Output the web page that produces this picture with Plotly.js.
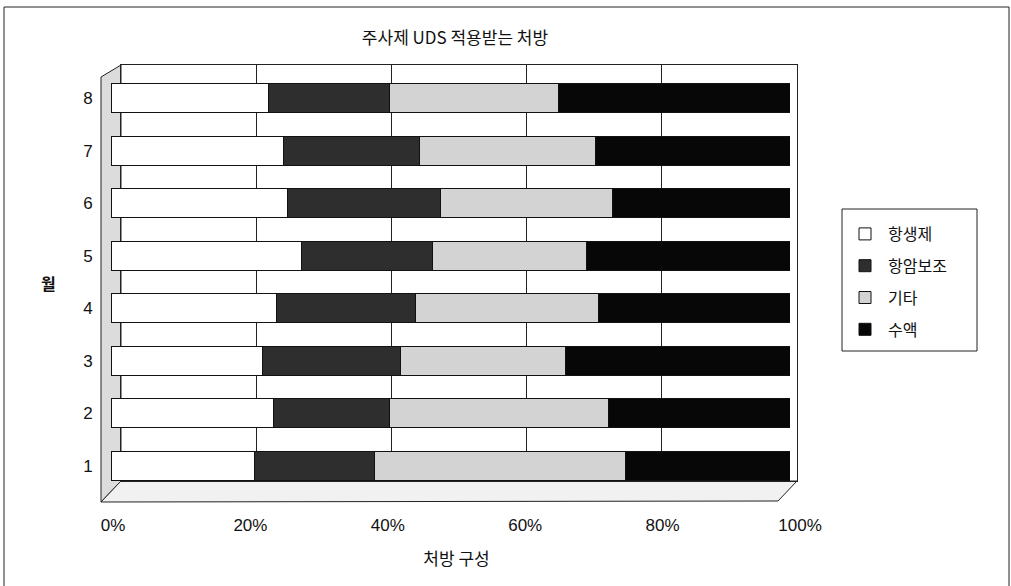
<!DOCTYPE html>
<html>
<head>
<meta charset="utf-8">
<script src="https://cdn.plot.ly/plotly-3.0.1.min.js"></script>
<style>
  html, body { margin: 0; padding: 0; background: #ffffff; }
  #chart { width: 1011px; height: 586px; }
</style>
</head>
<body>
<div id="chart"></div>
<script>
// Months (category axis) and prescription share per month (%)
const months = ['1', '2', '3', '4', '5', '6', '7', '8'];
const antibiotics = [21.1, 24.0, 22.3, 24.4, 28.0, 26.0, 25.4, 23.2];   // 항생제
const anticancerAux = [17.7, 17.0, 20.3, 20.5, 19.4, 22.5, 20.0, 17.8]; // 항암보조
const others = [36.9, 32.3, 24.4, 26.9, 22.7, 25.3, 26.0, 24.9];        // 기타
const fluids = [24.3, 26.7, 33.0, 28.2, 29.9, 26.2, 28.6, 34.1];        // 수액

const seriesNames = ['항생제', '항암보조', '기타', '수액'];
const seriesValues = [antibiotics, anticancerAux, others, fluids];
const seriesColors = ['#ffffff', '#2e2e2e', '#d3d3d3', '#070707'];

const tickValues = [0, 20, 40, 60, 80, 100];
const tickLabels = ['0%', '20%', '40%', '60%', '80%', '100%'];

const W = 1011, H = 586;
const px = x => x / W;          // pixel -> paper x
const py = y => 1 - y / H;      // pixel -> paper y

const KR = '"Noto Sans CJK KR", "Noto Sans", sans-serif';
const NUM = '"Liberation Sans Narrow", "Liberation Sans", Arial, sans-serif';

const traces = [];

// back wall frame carrying the vertical grid lines
traces.push({ x: [], y: [], xaxis: 'x', yaxis: 'y', type: 'scatter', mode: 'markers',
  showlegend: false, hoverinfo: 'skip' });

// axis that carries the percentage tick labels and the x title
traces.push({ x: [], y: [], xaxis: 'x2', yaxis: 'y3', type: 'scatter', mode: 'markers',
  showlegend: false, hoverinfo: 'skip' });

// the stacked bars
seriesNames.forEach((name, i) => {
  traces.push({
    type: 'bar',
    orientation: 'h',
    name: name,
    y: months,
    x: seriesValues[i],
    xaxis: 'x3',
    yaxis: 'y3',
    legendgroup: 'g' + i,
    marker: {
      color: seriesColors[i],
      line: { color: '#111111', width: 1 }
    },
    hoverinfo: 'x+name'
  });
});

const layout = {
  width: W,
  height: H,
  margin: { l: 0, r: 0, t: 0, b: 0 },
  paper_bgcolor: '#ffffff',
  plot_bgcolor: 'rgba(0,0,0,0)',
  barmode: 'stack',
  barnorm: 'percent',
  bargap: 0.45,
  showlegend: true,
  font: { family: KR, color: '#111111', size: 16 },
  title: {
    text: '주사제 UDS 적용받는 처방',
    font: { family: KR, size: 17, color: '#111111' },
    x: px(455), xanchor: 'center',
    y: py(38), yanchor: 'middle'
  },
  // back wall
  xaxis: {
    domain: [px(121), px(797)], anchor: 'y', range: [0, 100],
    tickvals: tickValues, showticklabels: false, ticks: '',
    showgrid: true, gridcolor: '#222222', gridwidth: 1,
    showline: true, mirror: true, linecolor: '#222222', linewidth: 1,
    zeroline: false, fixedrange: true
  },
  yaxis: {
    domain: [py(481), py(65)], anchor: 'x', range: [0, 1],
    showticklabels: false, ticks: '', showgrid: false,
    showline: true, mirror: true, linecolor: '#222222', linewidth: 1,
    zeroline: false, fixedrange: true
  },
  // percentage labels
  xaxis2: {
    domain: [px(113), px(800)], anchor: 'y3', range: [0, 100],
    tickvals: tickValues, ticktext: tickLabels,
    ticks: 'outside', ticklen: 18, tickcolor: 'rgba(0,0,0,0)',
    tickfont: { family: NUM, size: 17, color: '#111111' },
    showgrid: false, showline: false, zeroline: false, fixedrange: true,
    title: { text: '처방 구성', font: { family: KR, size: 17, color: '#111111' }, standoff: 18 }
  },
  // bars
  xaxis3: {
    domain: [px(111), px(790)], anchor: 'y3', range: [0, 100],
    showticklabels: false, ticks: '', showgrid: false,
    showline: false, zeroline: false, fixedrange: true
  },
  yaxis3: {
    domain: [py(492), py(72)], anchor: 'x3',
    type: 'category', categoryorder: 'array', categoryarray: months,
    ticks: 'outside', ticklen: 14, tickcolor: 'rgba(0,0,0,0)',
    tickfont: { family: NUM, size: 17, color: '#111111' },
    showgrid: false, showline: false, zeroline: false, fixedrange: true
  },
  legend: {
    x: px(842), y: py(217), xanchor: 'left', yanchor: 'top',
    bgcolor: 'rgba(0,0,0,0)', borderwidth: 0,
    font: { family: KR, size: 16, color: '#111111' },
    traceorder: 'grouped', tracegroupgap: 8, itemwidth: 36
  },
  annotations: [
    { text: '<b>월</b>', xref: 'paper', yref: 'paper', x: px(48), y: py(283),
      xanchor: 'center', yanchor: 'middle', showarrow: false,
      font: { family: KR, size: 16, color: '#111111' } }
  ],
  shapes: [
    // outer chart frame
    { type: 'rect', xref: 'paper', yref: 'paper', layer: 'below',
      x0: px(4), x1: px(1009), y0: py(592), y1: py(7),
      line: { color: '#222222', width: 1 }, fillcolor: 'rgba(0,0,0,0)' },
    // legend box
    { type: 'rect', xref: 'paper', yref: 'paper', layer: 'below',
      x0: px(842), x1: px(977), y0: py(351), y1: py(209),
      line: { color: '#222222', width: 1 }, fillcolor: '#ffffff' },
    // left side wall
    { type: 'path', xref: 'paper', yref: 'paper', layer: 'below',
      path: `M ${px(101)} ${py(77)} L ${px(121)} ${py(65)} L ${px(121)} ${py(481)} L ${px(101)} ${py(502)} Z`,
      fillcolor: '#dcdcdc', line: { color: '#222222', width: 1 } },
    // floor
    { type: 'path', xref: 'paper', yref: 'paper', layer: 'below',
      path: `M ${px(101)} ${py(502)} L ${px(121)} ${py(481)} L ${px(797)} ${py(481)} L ${px(778)} ${py(501)} Z`,
      fillcolor: '#f1f1f1', line: { color: '#222222', width: 1 } }
  ]
};

Plotly.newPlot('chart', traces, layout, { staticPlot: true, displayModeBar: false });
</script>
</body>
</html>
